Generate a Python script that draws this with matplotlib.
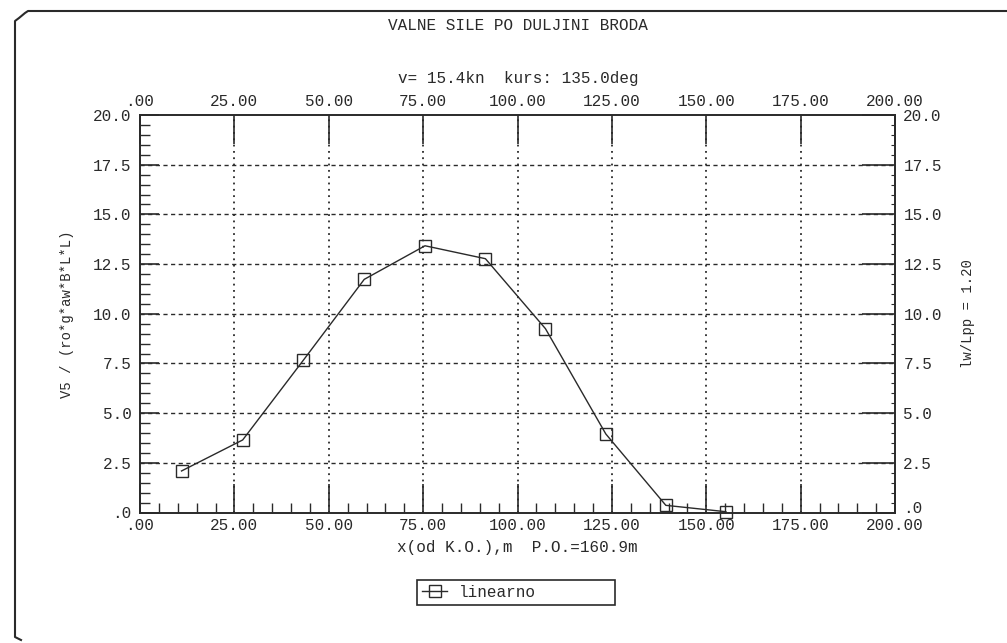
import numpy as np
import matplotlib.pyplot as plt
from matplotlib.ticker import MultipleLocator, FuncFormatter
from matplotlib.lines import Line2D

# Vrijednosti ocitane sa slike
x_pos = [11.0, 27.2, 43.3, 59.4, 75.5, 91.5, 107.4, 123.4, 139.3, 155.2]
v5 = [2.09, 3.65, 7.67, 11.73, 13.42, 12.77, 9.25, 3.95, 0.36, 0.04]

title = 'VALNE SILE PO DULJINI BRODA'
subtitle = 'v= 15.4kn  kurs: 135.0deg'
xlabel = 'x(od K.O.),m  P.O.=160.9m'
ylabel = 'V5 / (ro*g*aw*B*L*L)'
ylabel_right = 'lw/Lpp = 1.20'
legend_label = 'linearno'

plt.rcParams['font.family'] = ['Liberation Mono', 'DejaVu Sans Mono']
fs = 11.5
ink = '#2a2a2a'

W, H = 1007, 643
fig = plt.figure(figsize=(W / 100, H / 100), dpi=100)

ax = fig.add_axes([140 / W, 1 - 512.5 / H, 755 / W, 397.5 / H])
ax.plot(x_pos, v5, color=ink, lw=1.0, marker='s', markersize=8.5,
        markerfacecolor='none', markeredgecolor=ink, markeredgewidth=1.0,
        label=legend_label, clip_on=False, zorder=3)

ax.set_xlim(0, 200)
ax.set_ylim(0, 20)


def fmt_x(v, pos):
    s = f'{v:.2f}'
    return s[1:] if s.startswith('0') else s


def fmt_y(v, pos):
    s = f'{v:.1f}'
    return s[1:] if s.startswith('0') else s


def fmt_y_right(v, pos):
    # nula se pise posebno, malo iznad
    return '' if abs(v) < 1e-9 else fmt_y(v, pos)


ax.xaxis.set_major_locator(MultipleLocator(25))
ax.xaxis.set_minor_locator(MultipleLocator(5))
ax.yaxis.set_major_locator(MultipleLocator(2.5))
ax.yaxis.set_minor_locator(MultipleLocator(0.5))
ax.xaxis.set_major_formatter(FuncFormatter(fmt_x))
ax.yaxis.set_major_formatter(FuncFormatter(fmt_y))

ax.tick_params(axis='x', which='major', direction='in', length=21, width=1.2,
               top=True, labeltop=True, labelsize=fs, pad=4, color=ink, labelcolor=ink)
ax.tick_params(axis='x', which='minor', direction='in', length=7, width=1.0,
               top=False, color=ink)
ax.tick_params(axis='y', which='major', direction='in', length=14, width=1.2,
               right=False, labelsize=fs, pad=6, color=ink, labelcolor=ink)
ax.tick_params(axis='y', which='minor', direction='in', length=7, width=1.0,
               right=False, color=ink)

# desna os
axr = ax.twinx()
axr.set_ylim(0, 20)
axr.yaxis.set_major_locator(MultipleLocator(2.5))
axr.yaxis.set_minor_locator(MultipleLocator(0.5))
axr.yaxis.set_major_formatter(FuncFormatter(fmt_y_right))
axr.tick_params(axis='y', which='major', direction='in', length=24, width=1.2,
                labelsize=fs, pad=6, color=ink, labelcolor=ink)
axr.tick_params(axis='y', which='minor', direction='in', length=3, width=0.8, color=ink)
axr.set_ylabel(ylabel_right, fontsize=10, color=ink, labelpad=14)
axr.annotate(fmt_y(0, 0), xy=(1, 0), xycoords='axes fraction', xytext=(6, 3),
             textcoords='offset points', ha='left', va='center', fontsize=fs, color=ink)

for a in (ax, axr):
    for sp in a.spines.values():
        sp.set_color(ink)
        sp.set_linewidth(1.2)

# mreza
for xv in range(25, 200, 25):
    ax.axvline(xv, color=ink, lw=1.3, ls=(0, (1, 2.5)), zorder=1)
for yv in np.arange(2.5, 20, 2.5):
    ax.axhline(yv, color=ink, lw=1.0, ls=(0, (3, 2.5)), zorder=1)

ax.set_xlabel(xlabel, fontsize=fs, color=ink, labelpad=5)
ax.set_ylabel(ylabel, fontsize=10, color=ink, labelpad=14)

fig.text(518 / W, 1 - 26 / H, title, ha='center', va='center', fontsize=fs, color=ink)
fig.text(518 / W, 1 - 78 / H, subtitle, ha='center', va='center', fontsize=fs, color=ink)

# legenda
leg = fig.legend(loc='center left', bbox_to_anchor=(417 / W, 1 - 606 / H, 198 / W, 27 / H),
                 mode='expand', fontsize=fs, handlelength=1.6, handletextpad=0.7,
                 borderaxespad=0, borderpad=0.3, fancybox=False, framealpha=1)
leg.get_frame().set_edgecolor(ink)
leg.get_frame().set_linewidth(1.2)
for t in leg.get_texts():
    t.set_color(ink)

# okvir
fx = np.array([1007, 28, 25, 19, 15, 15, 15, 21])
fy = np.array([11, 11, 13, 18, 21, 23, 637, 640])
fig.add_artist(Line2D(fx / W, 1 - fy / H, color=ink, lw=1.5))

fig.savefig('out.png', dpi=100, facecolor='white')
